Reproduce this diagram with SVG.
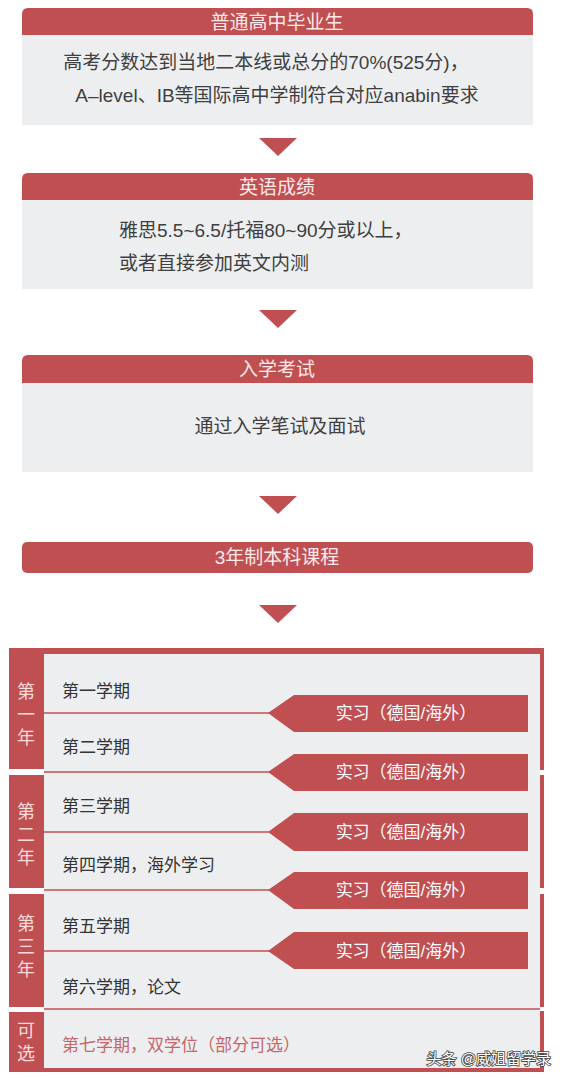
<svg xmlns="http://www.w3.org/2000/svg" width="562" height="1078" viewBox="0 0 562 1078">
<style>
text{font-family:"Liberation Sans","Noto Sans CJK SC",sans-serif;dominant-baseline:central}
.red{fill:#c04f52}
.gray{fill:#edeef0}
.hd{fill:#fbeaea;font-size:19px;text-anchor:middle}
.bd{fill:#3f3f3f;font-size:19px}
.sem{fill:#333;font-size:17px}
.yr{fill:#f8dcdc;font-size:18px;text-anchor:middle}
.bn{fill:#fff;font-size:17px;text-anchor:middle}
.sep{stroke:#c04f52;stroke-width:1.3;fill:none}
.gap{fill:#fff}
</style>
<rect width="562" height="1078" fill="#fff"/>

<g id="node-gaokao">
<path class="red" d="M22 35 V14 Q22 8 28 8 H527 Q533 8 533 14 V35 Z"/>
<rect class="gray" x="22" y="35" width="511" height="90"/>
<text class="hd" x="277" y="22">普通高中毕业生</text>
<text class="bd" x="266" y="62" text-anchor="middle">高考分数达到当地二本线或总分的70%(525分)，</text>
<text class="bd" x="277" y="95" text-anchor="middle">A–level、IB等国际高中学制符合对应anabin要求</text>
</g>

<g id="node-english">
<path class="red" d="M22 200 V179 Q22 173 28 173 H527 Q533 173 533 179 V200 Z"/>
<rect class="gray" x="22" y="200" width="511" height="89"/>
<text class="hd" x="277" y="187">英语成绩</text>
<text class="bd" x="119" y="230">雅思5.5~6.5/托福80~90分或以上，</text>
<text class="bd" x="119" y="263">或者直接参加英文内测</text>
</g>

<g id="node-exam">
<path class="red" d="M22 383 V361 Q22 355 28 355 H527 Q533 355 533 361 V383 Z"/>
<rect class="gray" x="22" y="383" width="511" height="89"/>
<text class="hd" x="277" y="369">入学考试</text>
<text class="bd" x="280" y="426" text-anchor="middle">通过入学笔试及面试</text>
</g>

<g id="node-program">
<rect class="red" x="22" y="542" width="511" height="31" rx="5"/>
<text class="hd" x="277" y="557">3年制本科课程</text>
</g>

<g id="connectors">
<polygon class="red" points="259,138 297,138 278,156"/>
<polygon class="red" points="259,310 297,310 278,328"/>
<polygon class="red" points="259,496 297,496 278,514"/>
<polygon class="red" points="259,605 297,605 278,623"/>
</g>

<g id="node-years">
<rect class="red" x="9" y="648" width="535" height="424"/>
<rect class="gray" x="44" y="654" width="496" height="414"/>
<rect class="gap" x="8" y="769" width="36" height="6"/>
<rect class="gap" x="540" y="770" width="8" height="5"/>
<rect class="gap" x="8" y="888" width="36" height="6"/>
<rect class="gap" x="540" y="888" width="8" height="6"/>
<rect class="gap" x="8" y="1007" width="36" height="5"/>
<rect class="gap" x="540" y="1007" width="8" height="4"/>
<line class="sep" x1="44" y1="713" x2="270" y2="713"/>
<line class="sep" x1="44" y1="772" x2="270" y2="772"/>
<line class="sep" x1="44" y1="832" x2="270" y2="832"/>
<line class="sep" x1="44" y1="890" x2="270" y2="890"/>
<line class="sep" x1="44" y1="951" x2="270" y2="951"/>
<line class="sep" x1="44" y1="1009" x2="540" y2="1009"/>
</g>

<g id="node-year1">
<text class="yr" x="26" y="692">第</text>
<text class="yr" x="26" y="715">一</text>
<text class="yr" x="26" y="738">年</text>
<text class="sem" x="62" y="691">第一学期</text>
<text class="sem" x="62" y="747">第二学期</text>
</g>

<g id="node-year2">
<text class="yr" x="26" y="812">第</text>
<text class="yr" x="26" y="835">二</text>
<text class="yr" x="26" y="858">年</text>
<text class="sem" x="62" y="806">第三学期</text>
<text class="sem" x="62" y="865">第四学期，海外学习</text>
</g>

<g id="node-year3">
<text class="yr" x="26" y="924">第</text>
<text class="yr" x="26" y="947">三</text>
<text class="yr" x="26" y="970">年</text>
<text class="sem" x="62" y="926">第五学期</text>
<text class="sem" x="62" y="987">第六学期，论文</text>
</g>

<g id="node-optional">
<text class="yr" x="26" y="1031">可</text>
<text class="yr" x="26" y="1054">选</text>
<text class="sem" x="62" y="1045" style="fill:#c4676a">第七学期，双学位（部分可选）</text>
</g>

<g id="node-internships">
<polygon class="red" points="268,713 294,695 528,695 528,732 294,732"/>
<text class="bn" x="406" y="713">实习（德国/海外）</text>
<polygon class="red" points="268,772 294,754 528,754 528,791 294,791"/>
<text class="bn" x="406" y="772">实习（德国/海外）</text>
<polygon class="red" points="268,832 294,813 528,813 528,851 294,851"/>
<text class="bn" x="406" y="832">实习（德国/海外）</text>
<polygon class="red" points="268,890 294,872 528,872 528,909 294,909"/>
<text class="bn" x="406" y="890">实习（德国/海外）</text>
<polygon class="red" points="268,951 294,932 528,932 528,969 294,969"/>
<text class="bn" x="406" y="951">实习（德国/海外）</text>
</g>

<g id="watermark">
<text x="551" y="1058" text-anchor="end" style="font-size:15px;fill:#fff;stroke:#444;stroke-width:1.6;paint-order:stroke">头条 @威姐留学录</text>
</g>
</svg>
